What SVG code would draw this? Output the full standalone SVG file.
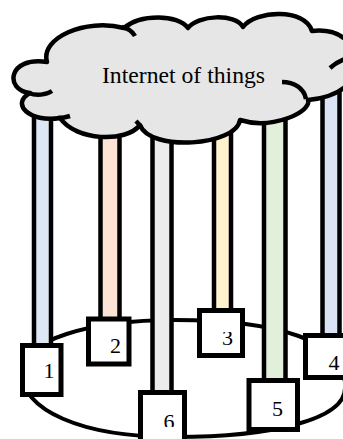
<svg xmlns="http://www.w3.org/2000/svg" width="343" height="439" viewBox="0 0 343 439">
<style>
.base{fill:none;stroke:#000;stroke-width:4}
.rod{stroke:#000;stroke-width:4.5}
.box{fill:#fff;stroke:#000;stroke-width:5}
.num{font-family:"Liberation Serif","Times New Roman",serif;font-size:22px;fill:#000;text-anchor:middle}
.cloud{fill:#e6e6e6;stroke:#000;stroke-width:4.5;stroke-linejoin:round}
.tick{fill:none;stroke:#000;stroke-width:4.5;stroke-linecap:butt}
.title{font-family:"Liberation Serif","Times New Roman",serif;font-size:23.7px;fill:#000;text-anchor:middle}
</style>
<defs>
<clipPath id="clip3"><rect x="199" y="332" width="44" height="30"/></clipPath>
<clipPath id="clip6"><rect x="140" y="395" width="46" height="32"/></clipPath>
</defs>
<rect width="343" height="439" fill="#fff"/>
<g id="connectors">
<path id="base" class="base" d="M 175,320 C 275,320 348,340 345,388 C 345,420 270,437 175,437 C 80,437 22,410 22,372 C 22,340 90,320 175,320 Z"/>
<rect class="rod" x="34" y="100" width="17" height="248" fill="#dde8f4"/>
<rect class="rod" x="100.5" y="100" width="19" height="222" fill="#fbe4d6"/>
<rect class="rod" x="152.5" y="100" width="19" height="295" fill="#ececec"/>
<rect class="rod" x="214" y="100" width="17" height="213" fill="#fff2cc"/>
<rect class="rod" x="264" y="100" width="21.5" height="283" fill="#e2efda"/>
<rect class="rod" x="322.5" y="80" width="17" height="258" fill="#dae3f3"/>
</g>
<g id="node1"><rect class="box" x="22.5" y="345.5" width="38.5" height="49"/><text class="num" x="49" y="378">1</text></g>
<g id="node2"><rect class="box" x="88.5" y="319" width="40.5" height="45"/><text class="num" x="115.5" y="353">2</text></g>
<g id="node3"><rect class="box" x="199.5" y="310.5" width="43" height="45"/><text class="num" x="227.5" y="345" clip-path="url(#clip3)">3</text></g>
<g id="node4"><rect class="box" x="305.5" y="335.5" width="45" height="42"/><text class="num" x="334" y="370">4</text></g>
<g id="node5"><rect class="box" x="249" y="380.5" width="48.5" height="49"/><text class="num" x="277.5" y="416">5</text></g>
<g id="node6"><rect class="box" x="140.5" y="392.5" width="44" height="60"/><text class="num" x="169" y="429" clip-path="url(#clip6)">6</text></g>
<g id="cloud">
<path class="cloud" d="M 47,62 C 40,38 85,18 124,28 C 140,14 178,14 188,28 C 198,15 235,13 243,27 C 256,10 305,8 312,31 C 340,28 362,46 350,66 C 360,80 340,97 308,100 C 312,112 272,130 240,120 C 236,146 150,152 140,125 C 126,143 76,141 60,118 C 30,123 10,104 30,93 C 4,90 8,56 47,62 Z"/>
<path class="tick" d="M 122,27 Q 131,29 135,36"/>
<path class="tick" d="M 29,93 C 36,96 46,95 52,91"/>
<path class="tick" d="M 58,118 Q 64,118 70,116"/>
<path class="tick" d="M 141,127 Q 139,124 136,121"/>
<path class="tick" d="M 306,99 C 304,88 294,82 282,82"/>
<path class="tick" d="M 348,58 Q 338,61 330,68"/>
<text class="title" x="183.5" y="83">Internet of things</text>
</g>
</svg>
